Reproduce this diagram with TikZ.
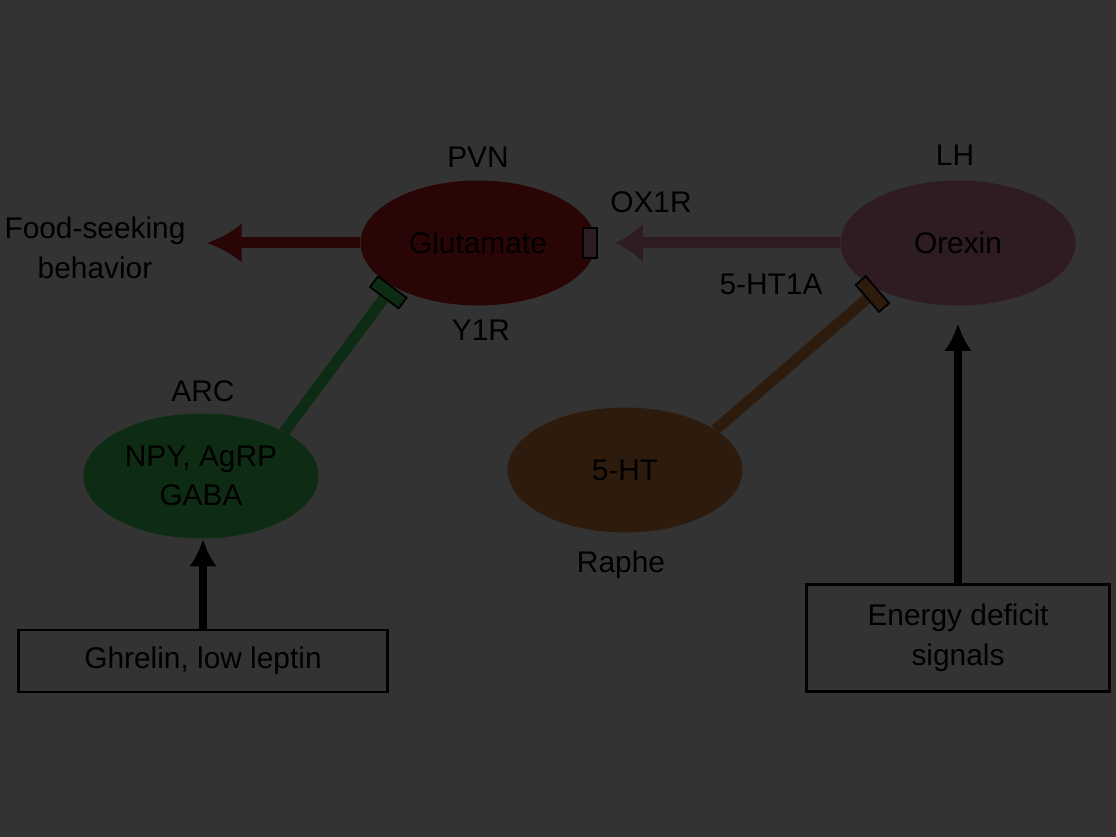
\documentclass[tikz,border=0pt]{standalone}
\usepackage{fontspec}
\setmainfont{Liberation Sans}
\usetikzlibrary{arrows.meta,shapes.geometric}
\definecolor{bg}{HTML}{333333}
\definecolor{glufill}{HTML}{2A0505}
\definecolor{orxfill}{HTML}{2E1B23}
\definecolor{npyfill}{HTML}{0E2C13}
\definecolor{htfill}{HTML}{2D1C0D}

\begin{document}
\begin{tikzpicture}[x=0.02cm,y=-0.02cm,
    every node/.style={font=\fontsize{17}{22.5}\selectfont,text=black},
    cell/.style={ellipse,minimum width=4.7cm,minimum height=2.5cm,inner sep=0pt,align=center},
    inbox/.style={draw=black,line width=1.7pt,align=center,inner sep=0pt},
    tbar/.style={draw=black,line width=1pt,inner sep=0pt,minimum width=0.28cm,minimum height=0.6cm},
    link/.style={line width=0.22cm},
    feed/.style={line width=0.16cm,black,-{Latex[length=0.55cm,width=0.55cm]}}]
    \fill[bg] (0,0) rectangle (1116,837);
    \useasboundingbox (0,0) rectangle (1116,837);

    \node[cell,fill=glufill] (glu) at (478,243) {Glutamate};
    \node[cell,fill=orxfill] (orx) at (958,243) {Orexin};
    \node[cell,fill=npyfill] (npy) at (201,476) {NPY, AgRP\\GABA};
    \node[cell,fill=htfill] (ht) at (625,470) {5-HT};

    \node[inbox,minimum width=7.4cm,minimum height=1.24cm] (arcbox) at (203,661) {Ghrelin, low leptin};
    \node[inbox,minimum width=6.08cm,minimum height=2.14cm] (lhbox) at (958,638) {Energy deficit\\signals};

    \node[align=center] (out) at (95,248) {Food-seeking\\behavior};
    \node[tbar,fill=orxfill] (glubar) at (590,243) {};

    \node (lpvn) at (478,157) {PVN};
    \node (lox) at (651,202) {OX1R};
    \node (ly1) at (481,330) {Y1R};
    \node (larc) at (203,391) {ARC};
    \node (llh) at (955,155) {LH};
    \node (lht) at (771,284) {5-HT1A};
    \node (lraphe) at (621,565) {Raphe};

    \draw[link,glufill,-{Latex[length=0.7cm,width=0.8cm]},shorten >=0.3cm] (glu) -- (out.east |- glu);
    \draw[link,orxfill,-{Latex[length=0.55cm,width=0.8cm]},shorten >=0.35cm] (orx) -- (glubar);
    \draw[link,npyfill,-{Rectangle[length=0.3cm,width=0.75cm,color=black,fill=npyfill,line width=1pt]}] (npy.28) -- (glu.207);
    \draw[link,htfill,-{Rectangle[length=0.3cm,width=0.75cm,color=black,fill=htfill,line width=1pt]}] (ht.24) -- (orx.210);
    \draw[feed] (arcbox) -- (arcbox |- npy.south);
    \draw[feed,shorten >=0.35cm] (lhbox) -- (orx);
\end{tikzpicture}
\end{document}
